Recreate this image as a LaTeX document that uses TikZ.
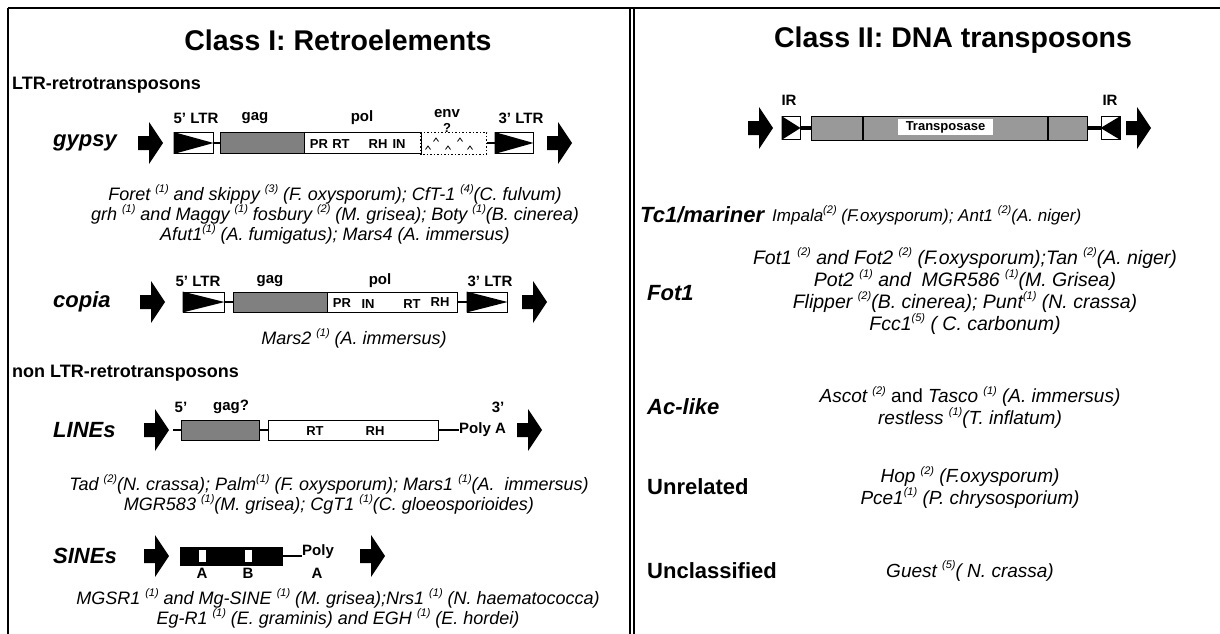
\documentclass[tikz,border=0pt]{standalone}
\usepackage{fontspec}
\setmainfont{Liberation Sans}
\newcommand{\rf}[1]{\raisebox{0.45em}{\fontsize{11}{11}\selectfont(#1)}}
\begin{document}
\begin{tikzpicture}[x=1pt,y=-1pt,
  frameline/.style={line width=1.5pt},
  title/.style={font=\fontsize{28.5}{30}\selectfont\bfseries, inner sep=0pt},
  sub/.style={font=\fontsize{18}{20}\selectfont\bfseries, inner sep=0pt, anchor=west},
  rowlab/.style={font=\fontsize{22}{24}\selectfont\bfseries\itshape, inner sep=0pt, anchor=west},
  rowlabup/.style={font=\fontsize{22}{24}\selectfont\bfseries, inner sep=0pt, anchor=west},
  lab/.style={font=\fontsize{15}{16}\selectfont\bfseries, inner sep=0pt},
  intext/.style={font=\fontsize{13}{14}\selectfont\bfseries, inner sep=0pt},
  species/.style={font=\fontsize{18}{20}\selectfont\itshape, align=center, inner sep=0pt},
  rspecies/.style={font=\fontsize{19}{20}\selectfont\itshape, align=center, inner sep=0pt},
  ebox/.style={draw, line width=1pt, inner sep=0pt, minimum height=21pt},
  ltrbox/.style={ebox, fill=white},
  gagbox/.style={ebox, fill=black!50},
  polbox/.style={ebox, fill=white},
  conn/.style={line width=1.6pt},
  barrow/.pic={\fill (0,-7) -- (11,-7) -- (11,-21) -- (25,0) -- (11,21) -- (11,7) -- (0,7) -- cycle;}
]
\useasboundingbox (0,0) rectangle (1220,634);
\fill[white] (0,0) rectangle (1220,634);
% frame
\draw[frameline] (8,8) -- (1220,8);
\draw[frameline] (8,8) -- (8,634);
\draw[line width=1.2pt] (630,8) -- (630,634);
\draw[line width=1.2pt] (634,8) -- (634,634);

% ================= LEFT PANEL =================
\node[title] (t1) at (338,40) {Class I: Retroelements};
\node[sub] (s1) at (12,85) {LTR-retrotransposons};

% ---- gypsy ----
\node[rowlab] (lgyp) at (53,143) {gypsy};
\pic at (138,143) {barrow};
\node[ltrbox, minimum width=39pt] (g5) at (193.5,143) {};
\fill (g5.north west) -- (g5.east) -- (g5.south west) -- cycle;
\node[gagbox, minimum width=84pt] (ggag) at (262,143) {};
\node[polbox, minimum width=117pt] (gpol) at (362.5,143) {};
\node[ebox, draw=none, minimum width=65pt] (genv) at (453.5,143) {};
\draw[line width=1pt, dash pattern=on 1.5pt off 2pt] (genv.north west) rectangle (genv.south east);
\foreach \cx in {436,460} \draw[line width=0.8pt] (\cx-2.5,141.5) -- (\cx,138) -- (\cx+2.5,141.5);
\foreach \cx in {428,448,470} \draw[line width=0.8pt] (\cx-2.5,149.5) -- (\cx,146) -- (\cx+2.5,149.5);
\node[ltrbox, minimum width=38pt] (g3) at (514,143) {};
\fill (g3.north west) -- (g3.east) -- (g3.south west) -- cycle;
\draw[conn] (g5.east) -- (ggag.west);
\draw[conn] (genv.east) -- (g3.west);
\pic at (547,143) {barrow};
\node[intext] (gpr) at (319,144) {PR};
\node[intext] (grt) at (341,144) {RT};
\node[intext] (grh) at (378,144) {RH};
\node[intext] (gin) at (399,144) {IN};
\node[lab] (lg5) at (196,118) {5' LTR};
\node[lab] (lggag) at (255,118) {gag};
\node[lab] (lgpol) at (362,118) {pol};
\node[lab] (lgenv) at (447,114) {env};
\node[lab, font=\fontsize{13}{14}\selectfont\bfseries] (lgq) at (447,128) {?};
\node[lab] (lg3) at (521,118) {3' LTR};
\node[species] (spg) at (335,214) {Foret \rf{1} and skippy \rf{3} (F. oxysporum); CfT-1 \rf{4}(C. fulvum)\\
grh \rf{1} and Maggy \rf{1} fosbury \rf{2} (M. grisea); Boty \rf{1}(B. cinerea)\\
Afut1\rf{1} (A. fumigatus); Mars4 (A. immersus)};

% ---- copia ----
\node[rowlab] (lcop) at (53,302) {copia};
\pic at (140,302) {barrow};
\node[ltrbox, minimum width=41pt, minimum height=20pt] (c5) at (203.5,302) {};
\fill (c5.north west) -- (c5.east) -- (c5.south west) -- cycle;
\node[gagbox, minimum width=94pt, minimum height=20pt] (cgag) at (280,302) {};
\node[polbox, minimum width=130pt, minimum height=20pt] (cpol) at (392,302) {};
\node[ltrbox, minimum width=40pt, minimum height=20pt] (c3) at (487,302) {};
\fill (c3.north west) -- (c3.east) -- (c3.south west) -- cycle;
\draw[conn] (c5.east) -- (cgag.west);
\draw[conn] (cpol.east) -- (c3.west);
\pic at (522,302) {barrow};
\node[intext] (cpr) at (342,303) {PR};
\node[intext] (cin) at (368,304) {IN};
\node[intext] (crt) at (412,304) {RT};
\node[intext] (crh) at (440,302) {RH};
\node[lab] (lc5) at (198,281) {5' LTR};
\node[lab] (lcgag) at (270,281) {gag};
\node[lab] (lcpol) at (380,281) {pol};
\node[lab] (lc3) at (490,281) {3' LTR};
\node[species] (spc) at (354,338) {Mars2 \rf{1} (A. immersus)};

\node[sub] (s2) at (12,373) {non LTR-retrotransposons};

% ---- LINEs ----
\node[rowlab] (llin) at (53,430) {LINEs};
\pic at (144,430) {barrow};
\coordinate (lst) at (173,430);
\node[gagbox, minimum width=78pt, minimum height=20pt] (lgag) at (220,430) {};
\node[polbox, minimum width=170pt, minimum height=20pt] (lpol) at (353,430) {};
\node[lab, anchor=west] (lpa) at (459,430) {Poly A};
\draw[conn] (lst) -- (lgag.west);
\draw[conn] (lgag.east) -- (lpol.west);
\draw[conn] (lpol.east) -- (lpa.west);
\pic at (517,430) {barrow};
\node[intext] (lrt) at (315,431) {RT};
\node[intext] (lrh) at (375,431) {RH};
\node[lab] (ll5) at (181,407) {5'};
\node[lab] (llgag) at (231,407) {gag?};
\node[lab] (ll3) at (498,407) {3'};
\node[species] (spl) at (329,494) {Tad \rf{2}(N. crassa); Palm\rf{1} (F. oxysporum); Mars1 \rf{1}(A.~~immersus)\\
MGR583 \rf{1}(M. grisea); CgT1 \rf{1}(C. gloeosporioides)};

% ---- SINEs ----
\node[rowlab] (lsin) at (53,556) {SINEs};
\pic at (144,556) {barrow};
\node[ebox, fill=black, minimum width=102pt, minimum height=18pt] (sbox) at (231,556) {};
\node[draw, fill=white, line width=0.8pt, inner sep=0pt, minimum width=8pt, minimum height=13pt] (swa) at (202,556) {};
\node[draw, fill=white, line width=0.8pt, inner sep=0pt, minimum width=8pt, minimum height=13pt] (swb) at (248,556) {};
\node[lab, anchor=west] (spoly) at (302,552) {Poly};
\draw[conn] (sbox.east) -- (spoly.west |- sbox.east);
\pic at (360,556) {barrow};
\node[lab] (sa) at (202,573) {A};
\node[lab] (sb) at (248,573) {B};
\node[lab] (sa2) at (317,573) {A};
\node[species] (sps) at (338,608) {MGSR1 \rf{1} and Mg-SINE \rf{1} (M. grisea);Nrs1 \rf{1} (N. haematococca)\\
Eg-R1 \rf{1} (E. graminis) and EGH \rf{1} (E. hordei)};

% ================= RIGHT PANEL =================
\node[title] (t2) at (953,40) {Class II: DNA transposons};
\node[lab] (irl1) at (789,100) {IR};
\node[lab] (irr1) at (1110,100) {IR};
\pic at (748,128) {barrow};
\node[ltrbox, minimum width=18pt, minimum height=23pt] (irl) at (791,128) {};
\fill (irl.north west) -- (irl.east) -- (irl.south west) -- cycle;
\node[ebox, fill=black!40, minimum width=276pt, minimum height=24pt] (trans) at (949,128) {};
\draw[line width=1.6pt] (863,116) -- (863,140);
\draw[line width=1.6pt] (1048,116) -- (1048,140);
\node[fill=white, inner sep=0pt, minimum width=95pt, minimum height=16pt, font=\fontsize{13}{14}\selectfont\bfseries] (tlab) at (945.5,127) {Transposase};
\node[ltrbox, minimum width=19pt, minimum height=23pt] (irr) at (1110.5,128) {};
\fill (irr.north east) -- (irr.west) -- (irr.south east) -- cycle;
\draw[line width=4pt] (irl.east) -- (trans.west);
\draw[line width=4pt] (trans.east) -- (irr.west);
\pic at (1126,128) {barrow};

\node[rowlab] (ltc) at (640,215) {Tc1/mariner};
\node[species, anchor=west, font=\fontsize{17}{18}\selectfont\itshape] (sptc) at (772,215) {Impala\rf{2} (F.oxysporum); Ant1 \rf{2}(A. niger)};

\node[rowlab] (lfot) at (647,293) {Fot1};
\node[rspecies, font=\fontsize{19.5}{19}\selectfont\itshape] (spf) at (965,291) {Fot1 \rf{2} and Fot2 \rf{2} (F.oxysporum);Tan \rf{2}(A. niger)\\
Pot2 \rf{1} and~~MGR586 \rf{1}(M. Grisea)\\
Flipper \rf{2}(B. cinerea); Punt\rf{1} (N. crassa)\\
Fcc1\rf{5} ( C. carbonum)};

\node[rowlab] (lac) at (647,407) {Ac-like};
\node[rspecies] (spa) at (970,407) {Ascot \rf{2} {\upshape and} Tasco \rf{1} (A. immersus)\\
restless \rf{1}(T. inflatum)};

\node[rowlabup] (lun) at (647,487) {Unrelated};
\node[rspecies] (spu) at (970,487) {Hop \rf{2} (F.oxysporum)\\
Pce1\rf{1} (P. chrysosporium)};

\node[rowlabup] (luc) at (647,571) {Unclassified};
\node[rspecies] (spuc) at (970,571) {Guest \rf{5}( N. crassa)};
\end{tikzpicture}
\end{document}
